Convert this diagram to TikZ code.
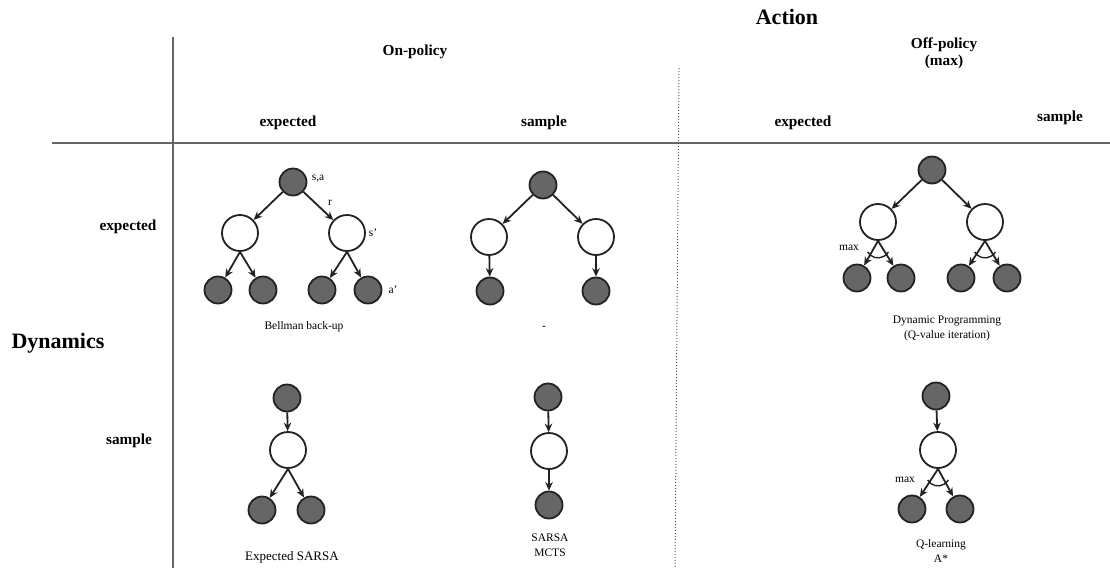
\documentclass[tikz,border=0pt]{standalone}
\usepackage{fontspec}
\setmainfont{Liberation Serif}
\usetikzlibrary{arrows.meta}
\definecolor{nodegray}{HTML}{666666}
\definecolor{edgec}{HTML}{222222}
\begin{document}
\begin{tikzpicture}[x=1pt,y=-1pt,
  full/.style={circle,draw=edgec,fill=nodegray,line width=1.8pt,minimum size=27pt,inner sep=0pt},
  emptyn/.style={circle,draw=edgec,fill=white,line width=1.8pt,minimum size=36pt,inner sep=0pt},
  conn/.style={draw=edgec,line width=1.8pt,-{Stealth[length=8.5pt,width=7.5pt]}},
  hdr/.style={font=\bfseries\fontsize{15.3}{17}\selectfont},
  captxt/.style={font=\fontsize{11.5}{15}\selectfont,align=center},
  lab/.style={font=\fontsize{11.5}{14}\selectfont},
  maxarc/.style={draw=edgec,line width=1.4pt}]
\useasboundingbox (0,0) rectangle (1110,568);
% grid lines
\coordinate (vt) at (173,37); \coordinate (vb) at (173,568);
\coordinate (hl) at (52,143); \coordinate (hr) at (1110,143);
\coordinate (dt) at (679,68); \coordinate (db) at (675,568);
\draw[gray!80!black,line width=1.2pt] (vt) -- (vb);
\draw[gray!80!black,line width=1.8pt] (hl) -- (hr);
\draw[gray!70!black,line width=1pt,dotted] (dt) -- (db);
% headers
\node[font=\bfseries\fontsize{22}{24}\selectfont] (action) at (787,17) {Action};
\node[hdr] (onp) at (415,52) {On-policy};
\node[hdr,align=center] (offp) at (944,53) {Off-policy\\(max)};
\node[hdr] (c1) at (288,123) {expected};
\node[hdr] (c2) at (544,123) {sample};
\node[hdr] (c3) at (803,123) {expected};
\node[hdr] (c4) at (1060,118) {sample};
\node[font=\bfseries\fontsize{22}{24}\selectfont] (dyn) at (58,343) {Dynamics};
\node[hdr] (r1) at (128,227) {expected};
\node[hdr] (r2) at (129,441) {sample};
% Bellman back-up
\node[full] (a0) at (293,182) {};
\node[emptyn] (a1) at (240,233) {};
\node[emptyn] (a2) at (347,233) {};
\node[full] (a3) at (218,290) {};
\node[full] (a4) at (263,290) {};
\node[full] (a5) at (322,290) {};
\node[full] (a6) at (368,290) {};
\draw[conn] (a0) -- (a1);
\draw[conn] (a0) -- (a2);
\draw[conn] (a1.south) -- (a3);
\draw[conn] (a1.south) -- (a4);
\draw[conn] (a2.south) -- (a5);
\draw[conn] (a2.south) -- (a6);
\node[lab] (lsa) at (318,179) {s,a};
\node[lab] (lr) at (330,203) {r};
\node[lab] (ls) at (373,233) {s'};
\node[lab] (la) at (393,290) {a'};
\node[captxt] (capa) at (304,327) {Bellman back-up};
% on-policy sample, expected dynamics
\node[full] (b0) at (543,185) {};
\node[emptyn] (b1) at (489,237) {};
\node[emptyn] (b2) at (596,237) {};
\node[full] (b3) at (490,291) {};
\node[full] (b4) at (596,291) {};
\draw[conn] (b0) -- (b1);
\draw[conn] (b0) -- (b2);
\draw[conn] (b1) -- (b3);
\draw[conn] (b2) -- (b4);
\node[captxt] (capb) at (544,328) {-};
% Dynamic programming
\node[full] (c0) at (932,170) {};
\node[emptyn] (c1n) at (878,222) {};
\node[emptyn] (c2n) at (985,222) {};
\node[full] (c3n) at (857,278) {};
\node[full] (c4n) at (901,278) {};
\node[full] (c5n) at (961,278) {};
\node[full] (c6n) at (1007,278) {};
\draw[conn] (c0) -- (c1n);
\draw[conn] (c0) -- (c2n);
\draw[conn] (c1n.south) -- (c3n);
\draw[conn] (c1n.south) -- (c4n);
\draw[conn] (c2n.south) -- (c5n);
\draw[conn] (c2n.south) -- (c6n);
\draw[maxarc] ([shift={(-10.4,11)}]c1n.south) arc[start angle=150,end angle=30,radius=12];
\draw[maxarc] ([shift={(-10.4,11)}]c2n.south) arc[start angle=150,end angle=30,radius=12];
\node[lab] (lmax1) at (849,248) {max};
\node[captxt] (capc) at (947,328) {Dynamic Programming\\(Q-value iteration)};
% Expected SARSA
\node[full] (d0) at (287,398) {};
\node[emptyn] (d1) at (288,450) {};
\node[full] (d2) at (262,510) {};
\node[full] (d3) at (311,510) {};
\draw[conn] (d0) -- (d1);
\draw[conn] (d1.south) -- (d2);
\draw[conn] (d1.south) -- (d3);
\node[captxt,font=\fontsize{13}{15}\selectfont] (capd) at (292,557) {Expected SARSA};
% SARSA
\node[full] (e0) at (548,397) {};
\node[emptyn] (e1) at (549,451) {};
\node[full] (e2) at (549,505) {};
\draw[conn] (e0) -- (e1);
\draw[conn] (e1) -- (e2);
\node[captxt] (cape) at (550,545) {SARSA\\MCTS};
% Q-learning
\node[full] (f0) at (936,396) {};
\node[emptyn] (f1) at (938,450) {};
\node[full] (f2) at (912,509) {};
\node[full] (f3) at (960,509) {};
\draw[conn] (f0) -- (f1);
\draw[conn] (f1.south) -- (f2);
\draw[conn] (f1.south) -- (f3);
\draw[maxarc] ([shift={(-10.4,11)}]f1.south) arc[start angle=150,end angle=30,radius=12];
\node[lab] (lmax2) at (905,480) {max};
\node[captxt] (capf) at (941,551) {Q-learning\\A*};
\end{tikzpicture}
\end{document}
